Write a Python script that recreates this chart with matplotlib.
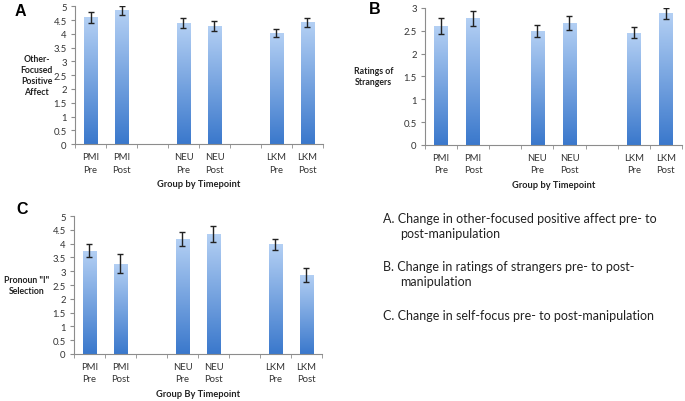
import matplotlib.pyplot as plt
import numpy as np
from matplotlib.colors import LinearSegmentedColormap

# ==========================
# Data
# ==========================
tick_labels = ["PMI\nPre", "PMI\nPost", "", "NEU\nPre", "NEU\nPost", "", "LKM\nPre", "LKM\nPost"]

affect_vals = [4.60, 4.85, np.nan, 4.38, 4.28, np.nan, 4.02, 4.42]
affect_err = [0.20, 0.15, np.nan, 0.18, 0.17, np.nan, 0.15, 0.17]

strangers_vals = [2.60, 2.77, np.nan, 2.50, 2.67, np.nan, 2.45, 2.88]
strangers_err = [0.18, 0.16, np.nan, 0.13, 0.15, np.nan, 0.12, 0.12]

pronoun_vals = [3.75, 3.28, np.nan, 4.18, 4.35, np.nan, 3.97, 2.87]
pronoun_err = [0.25, 0.33, np.nan, 0.25, 0.30, np.nan, 0.20, 0.25]

notes = [
    ("A. Change in other-focused positive affect pre- to", "post-manipulation"),
    ("B. Change in ratings of strangers pre- to post-", "manipulation"),
    ("C. Change in self-focus pre- to post-manipulation", ""),
]

plt.rcParams['font.family'] = ['Lato', 'DejaVu Sans']

grad = LinearSegmentedColormap.from_list("bar", ["#3a78cc", "#b4d0f4"])
gray = "#8c8c8c"


def draw_panel(ax, vals, errs, ymax, ystep, ylabel, xlabel, ylab_x):
    x = np.arange(len(vals)) + 0.5
    bars = ax.bar(x, np.nan_to_num(vals), width=0.42, color="none", edgecolor="none")
    g = np.linspace(0, 1, 256).reshape(-1, 1)
    for b, v in zip(bars, vals):
        if np.isnan(v):
            continue
        im = ax.imshow(g, cmap=grad, aspect="auto", origin="lower",
                       extent=[b.get_x(), b.get_x() + b.get_width(), 0, v], zorder=2)
        im.set_clip_path(b)
    ax.errorbar(x, vals, yerr=errs, fmt="none", ecolor="#222222",
                elinewidth=1.0, capsize=2.2, capthick=1.0, zorder=3)
    ax.set_xlim(0, len(vals))
    ax.set_ylim(0, ymax)
    yt = np.arange(0, ymax + 0.01, ystep)
    ax.set_yticks(yt)
    ax.set_yticklabels([f"{t:g}" for t in yt])
    ax.set_xticks(x)
    ax.set_xticklabels(tick_labels, fontsize=6.8, color="#333333", linespacing=1.45)
    ax.set_xticks(np.arange(len(vals) + 1), minor=True)
    ax.tick_params(axis="x", which="major", length=0, pad=6)
    ax.tick_params(axis="x", which="minor", length=3, color=gray)
    ax.tick_params(axis="y", length=3, color=gray, labelsize=6.8, labelcolor="#333333", pad=3)
    for s in ["top", "right"]:
        ax.spines[s].set_visible(False)
    for s in ["left", "bottom"]:
        ax.spines[s].set_color(gray)
        ax.spines[s].set_linewidth(0.8)
    ax.set_xlabel(xlabel, fontsize=6.7, fontweight="bold", color="#222222", labelpad=4)
    ax.text(ylab_x, 0.5, ylabel, transform=ax.transAxes, fontsize=6.3, fontweight="bold",
            ha="center", va="center", color="#222222", linespacing=1.3)


fig = plt.figure(figsize=(6.85, 4.02), dpi=100)

ax_a = fig.add_axes([0.1095, 0.639, 0.362, 0.343])
draw_panel(ax_a, affect_vals, affect_err, 5, 0.5,
           "Other-\nFocused\nPositive\nAffect", "Group by Timepoint", -0.155)

ax_b = fig.add_axes([0.6204, 0.637, 0.375, 0.341])
draw_panel(ax_b, strangers_vals, strangers_err, 3, 0.5,
           "Ratings of\nStrangers", "Group by Timepoint", -0.2)

ax_c = fig.add_axes([0.108, 0.117, 0.362, 0.343])
draw_panel(ax_c, pronoun_vals, pronoun_err, 5, 0.5,
           "Pronoun \"I\"\nSelection", "Group By Timepoint", -0.19)

# panel letters
for letter, lx, ly in [("A", 0.021, 0.99), ("B", 0.539, 0.995), ("C", 0.024, 0.497)]:
    fig.text(lx, ly, letter, fontsize=11.5, fontweight="bold",
             family="Liberation Sans", va="top")

# notes
note_y = [0.47, 0.35, 0.228]
for (l1, l2), y in zip(notes, note_y):
    fig.text(0.559, y, l1, fontsize=9, color="#222222", va="top")
    if l2:
        fig.text(0.584, y - 0.037, l2, fontsize=9, color="#222222", va="top")

fig.savefig("out.png", dpi=100)
